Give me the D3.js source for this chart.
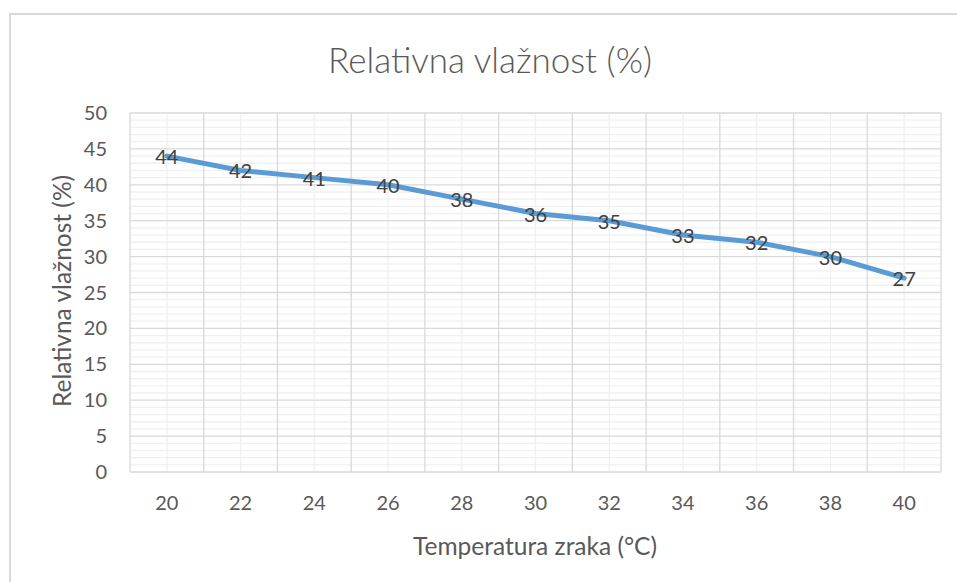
<!DOCTYPE html>
<html><head><meta charset="utf-8">
<script src="https://cdn.jsdelivr.net/npm/d3@7"></script>
<style>body{margin:0;background:#fff}svg{display:block}text{font-family:Lato,"Open Sans",sans-serif}</style>
</head><body><svg id="c" width="957" height="582"></svg>
<script>
const categories = [20,22,24,26,28,30,32,34,36,38,40];
const humidity = [44,42,41,40,38,36,35,33,32,30,27];
const yTicks = [0,5,10,15,20,25,30,35,40,45,50];
const title = "Relativna vlažnost (%)";
const xTitle = "Temperatura zraka (°C)";
const yTitle = "Relativna vlažnost (%)";

const svg = d3.select("#c");
const L=130, R=941, T=113, B=472;
svg.append("path").attr("d","M10,582 V14 H957").attr("fill","none").attr("stroke","#d9d9d9").attr("stroke-width",2);

const x = d3.scaleBand().domain(categories).range([L,R]).padding(0);
const y = d3.scaleLinear().domain([0,50]).range([B,T]);

const minor = d3.range(0,51,1).filter(v=>v%5!==0);
svg.append("g").selectAll("line").data(minor).join("line")
  .attr("x1",L).attr("x2",R).attr("y1",d=>y(d)).attr("y2",d=>y(d))
  .attr("stroke","#f0f0f0").attr("stroke-width",1.3);
svg.append("g").selectAll("line").data(categories).join("line")
  .attr("x1",d=>x(d)+x.bandwidth()/2).attr("x2",d=>x(d)+x.bandwidth()/2).attr("y1",T).attr("y2",B)
  .attr("stroke","#f0f0f0").attr("stroke-width",1.3);
svg.append("g").selectAll("line").data(yTicks).join("line")
  .attr("x1",L).attr("x2",R).attr("y1",d=>y(d)).attr("y2",d=>y(d))
  .attr("stroke","#d9d9d9").attr("stroke-width",1.3);
const bounds = categories.map(c=>x(c)).concat([R]);
svg.append("g").selectAll("line").data(bounds).join("line")
  .attr("x1",d=>d).attr("x2",d=>d).attr("y1",T).attr("y2",B)
  .attr("stroke","#d9d9d9").attr("stroke-width",1.3);

svg.append("g").selectAll("text").data(yTicks).join("text")
  .attr("x",107).attr("y",d=>y(d)).attr("dy","0.35em").attr("text-anchor","end")
  .attr("font-size",20).attr("fill","#595959").text(d=>d);
svg.append("g").selectAll("text").data(categories).join("text")
  .attr("x",d=>x(d)+x.bandwidth()/2).attr("y",503).attr("dy","0.35em").attr("text-anchor","middle")
  .attr("font-size",20).attr("fill","#595959").text(d=>d);

const line = d3.line().x((d,i)=>x(categories[i])+x.bandwidth()/2).y(d=>y(d));
svg.append("path").datum(humidity).attr("d",line).attr("fill","none")
  .attr("stroke","#5b9bd5").attr("stroke-width",5).attr("stroke-linejoin","round").attr("stroke-linecap","round");

svg.append("g").selectAll("text").data(humidity).join("text")
  .attr("x",(d,i)=>x(categories[i])+x.bandwidth()/2).attr("y",d=>y(d)+1).attr("dy","0.35em").attr("text-anchor","middle")
  .attr("font-size",20).attr("fill","#404040").text(d=>d);

svg.append("text").attr("x",490).attr("y",61).attr("dy","0.35em").attr("text-anchor","middle")
  .attr("font-size",35).attr("font-weight",300).attr("fill","#595959").text(title);
svg.append("text").attr("x",535).attr("y",546).attr("dy","0.35em").attr("text-anchor","middle")
  .attr("font-size",24.5).attr("fill","#595959").text(xTitle);
svg.append("text").attr("transform","translate(62,291) rotate(-90)").attr("dy","0.35em").attr("text-anchor","middle")
  .attr("font-size",24.5).attr("fill","#595959").text(yTitle);
</script></body></html>
